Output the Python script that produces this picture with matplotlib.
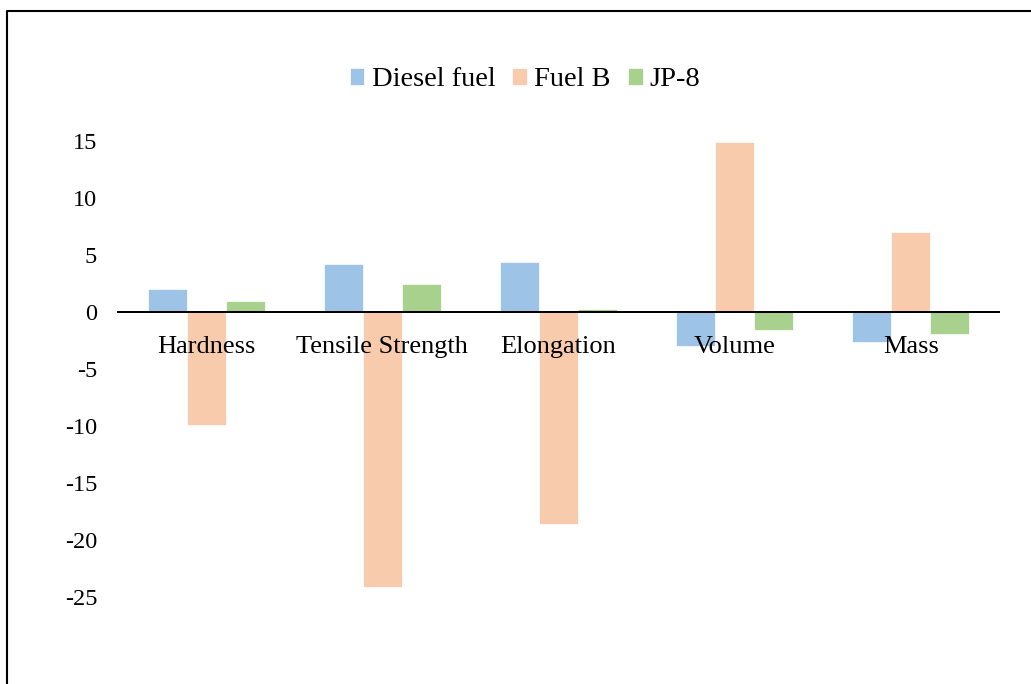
import numpy as np
import matplotlib
matplotlib.use("Agg")
import matplotlib.pyplot as plt
from matplotlib.lines import Line2D

plt.rcParams['font.family'] = ['Liberation Serif', 'DejaVu Serif']

categories = ["Hardness", "Tensile Strength", "Elongation", "Volume", "Mass"]
diesel = [2.0, 4.2, 4.4, -2.95, -2.65]
fuel_b = [-9.9, -24.1, -18.6, 14.9, 7.0]
jp8 = [1.0, 2.45, 0.3, -1.55, -1.95]
yticks = [-25, -20, -15, -10, -5, 0, 5, 10, 15]

colors = ["#9DC3E6", "#F8CBAD", "#A9D18E"]
names = ["Diesel fuel", "Fuel B", "JP-8"]

W, H = 1031, 684
fig = plt.figure(figsize=(W / 100, H / 100), dpi=100)
ax = fig.add_axes([118 / W, (H - 654) / H, (999 - 118) / W, (654 - 84) / H])

x = np.arange(len(categories))
w = 0.2216
for i, (vals, c, n) in enumerate(zip([diesel, fuel_b, jp8], colors, names)):
    ax.bar(x + (i - 1) * w, vals, w, color=c, label=n,
           edgecolor="white", linewidth=0.5)

for s in ["top", "right", "left"]:
    ax.spines[s].set_visible(False)
ax.spines["bottom"].set_position(("data", 0))
ax.spines["bottom"].set_linewidth(1.44)
ax.spines["bottom"].set_zorder(3)

ax.set_xlim(-0.5, 4.5)
ax.set_ylim(-30, 20)
ax.set_yticks(yticks)
ax.set_yticklabels([str(v) for v in yticks])
ax.set_xticks(x)
ax.set_xticklabels(categories)
ax.tick_params(axis="y", length=0, pad=15, labelsize=17.5)
ax.tick_params(axis="x", length=0, pad=17, labelsize=19)

fig.legend(loc="center", bbox_to_anchor=(525 / W, 1 - 80 / H), ncol=3,
           frameon=False, fontsize=20.5, handlelength=0.52, handleheight=0.52,
           handletextpad=0.25, columnspacing=0.6, borderpad=0)

# outer chart frame (left and top edges visible)
fig.add_artist(Line2D([7 / W, 7 / W, 1], [0, 1 - 11 / H, 1 - 11 / H],
                      color="black", linewidth=1.5, transform=fig.transFigure))

fig.savefig("out.png", dpi=100)
